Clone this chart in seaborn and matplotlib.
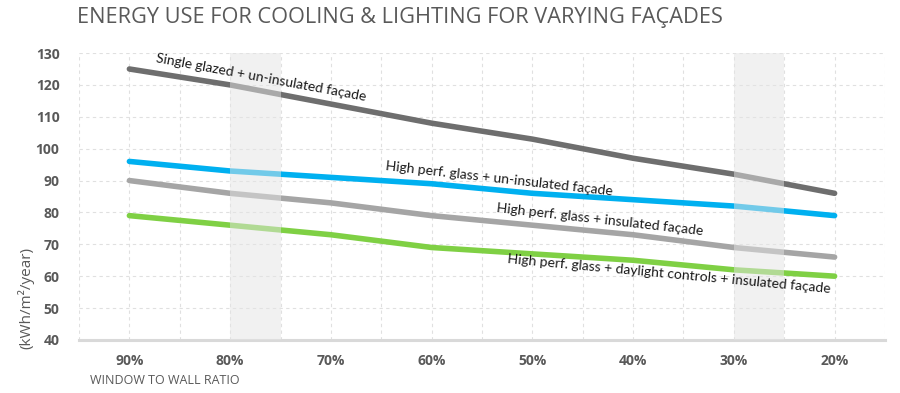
import pandas as pd
import seaborn as sns
import matplotlib.pyplot as plt
from matplotlib.patches import Rectangle

# Data
ratios = ["90%", "80%", "70%", "60%", "50%", "40%", "30%", "20%"]
single_glazed = [125, 120, 114, 108, 103, 97, 92, 86]
hp_uninsulated = [96, 93, 91, 89, 86, 84, 82, 79]
hp_insulated = [90, 86, 83, 79, 76, 73, 69, 66]
hp_daylight = [79, 76, 73, 69, 67, 65, 62, 60]

names = [
    "Single glazed + un-insulated façade",
    "High perf. glass + un-insulated façade",
    "High perf. glass + insulated façade",
    "High perf. glass + daylight controls + insulated façade",
]
colors = ["#6e6e6e", "#00b0f0", "#a5a5a5", "#7fd044"]

rows = []
for name, vals in zip(names, [single_glazed, hp_uninsulated, hp_insulated, hp_daylight]):
    for i, v in enumerate(vals):
        rows.append({"pos": i, "ratio": ratios[i], "value": v, "series": name})
df = pd.DataFrame(rows)

sns.set_style("white")
plt.rcParams['font.family'] = ['Open Sans', 'DejaVu Sans']

fig = plt.figure(figsize=(9, 3.93), dpi=100)
ax = fig.add_axes([0.0878, 0.135, 0.8955, 0.73])

sns.lineplot(data=df, x="pos", y="value", hue="series", palette=colors,
             linewidth=4, legend=False, ax=ax, solid_capstyle="round", zorder=3)

# highlighted bands (lighten the lines passing through)
for x0 in [1, 6]:
    ax.add_patch(Rectangle((x0, 40), 0.5, 90, facecolor="#e4e4e4", alpha=0.5,
                           edgecolor="none", zorder=4))

ax.set_xlim(-0.5, 7.5)
ax.set_ylim(40, 130)
ax.set_yticks(range(40, 131, 10))
ax.set_xticks(range(8))
ax.set_xticklabels(ratios)
ax.set_xticks([i + 0.5 for i in range(-1, 8)], minor=True)

ax.grid(True, which="both", axis="x", color="#e0e0e0", linestyle=(0, (3, 3)), linewidth=0.8)
ax.grid(True, which="major", axis="y", color="#e0e0e0", linestyle=(0, (3, 3)), linewidth=0.8)
ax.set_axisbelow(True)
for s in ["top", "right", "left"]:
    ax.spines[s].set_visible(False)
ax.spines["bottom"].set_color("#d9d9d9")
ax.spines["bottom"].set_linewidth(2.2)
ax.tick_params(which="both", length=0)
ax.tick_params(axis="x", pad=10)
ax.tick_params(axis="y", pad=14)
for lab in ax.get_xticklabels() + ax.get_yticklabels():
    lab.set_fontweight("bold")
    lab.set_color("#595959")
    lab.set_fontsize(10)
ax.set_xlabel("")
ax.set_ylabel("")

# line labels
labels = [
    (1.31, 122.3, -10.5),
    (3.67, 90.7, -6.4),
    (4.67, 77.6, -6.4),
    (5.36, 60.7, -5.3),
]
for name, (x, y, rot) in zip(names, labels):
    ax.text(x, y, name, rotation=rot, rotation_mode="anchor", ha="center", va="center",
            fontsize=10, color="#1a1a1a", zorder=5, family=["Lato", "DejaVu Sans"])

fig.text(0.086, 0.955, "ENERGY USE FOR COOLING & LIGHTING FOR VARYING FAÇADES",
         fontsize=15.7, color="#595959", va="center", ha="left")
fig.text(0.029, 0.242, "(kWh/m²/year)", rotation=90, fontsize=11, color="#595959",
         ha="center", va="center")
fig.text(0.1, 0.033, "WINDOW TO WALL RATIO", fontsize=9, color="#595959",
         ha="left", va="center")

plt.savefig("out.png", dpi=100)
